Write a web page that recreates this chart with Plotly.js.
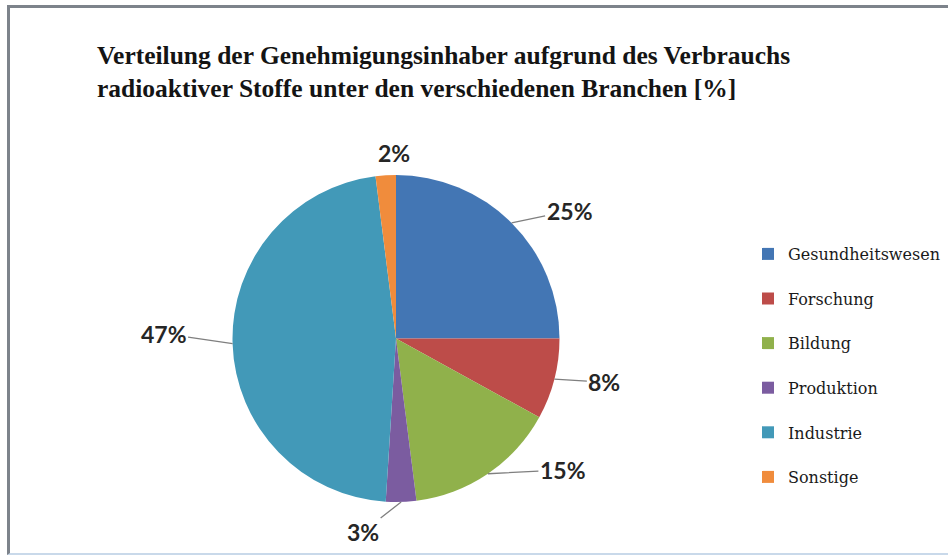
<!DOCTYPE html>
<html>
<head>
<meta charset="utf-8">
<script src="https://cdn.plot.ly/plotly-3.0.1.min.js"></script>
<style>
  html, body { margin: 0; padding: 0; background: #ffffff; }
  #wrap { position: relative; width: 948px; height: 556px; overflow: hidden; }
  #chart { position: absolute; left: 0; top: 0; width: 948px; height: 556px; }
  #frame { position: absolute; left: 7px; top: 5px; width: 960px; height: 545px;
           border-left: 3px solid #7d838b; border-top: 3px solid #7d838b;
           border-bottom: 2px solid #c9d9ea; pointer-events: none; }
</style>
</head>
<body>
<div id="wrap">
  <div id="chart"></div>
  <div id="frame"></div>
</div>
<script>
// ---- data ----
var categories = ["Gesundheitswesen", "Forschung", "Bildung", "Produktion", "Industrie", "Sonstige"];
var shares = [25, 8, 15, 3, 47, 2];
var percentLabels = ["25%", "8%", "15%", "3%", "47%", "2%"];

// ---- styling ----
var colors = ["#4376B4", "#BD4C49", "#90B14B", "#7B5CA0", "#4299B8", "#F08C3C"];
// label offset (px) from the slice's outer edge midpoint
var labelDX = [58, 50, 75, -38, -69, 8];
var labelDY = [-12, 3, -4, 30, -10, -22];
var leader = [true, true, true, true, true, false];

var W = 948, H = 556;
var dom = { x: [232 / W, 560 / W], y: [1 - 502 / H, 1 - 175 / H] };

// legend display names (extra blank line gives Excel-like spacing)
var legendNames = categories.map(function (c) { return c + "<br> "; });

var trace = {
  type: "pie",
  values: shares,
  labels: legendNames,
  hovertext: categories,
  marker: { colors: colors, line: { width: 0 } },
  sort: false,
  direction: "clockwise",
  rotation: 0,
  textinfo: "none",
  hoverinfo: "text+percent",
  domain: dom
};

// compute label anchors from the data
var cxPx = (dom.x[0] + dom.x[1]) / 2 * W;
var cyPx = (1 - (dom.y[0] + dom.y[1]) / 2) * H;
var rPx = Math.min((dom.x[1] - dom.x[0]) * W, (dom.y[1] - dom.y[0]) * H) / 2;
var total = shares.reduce(function (a, b) { return a + b; }, 0);
var annotations = [];
var cum = 0;
for (var i = 0; i < shares.length; i++) {
  var mid = (cum + shares[i] / 2) / total * 2 * Math.PI;
  cum += shares[i];
  var ex = cxPx + rPx * Math.sin(mid);
  var ey = cyPx - rPx * Math.cos(mid);
  annotations.push({
    xref: "paper", yref: "paper",
    x: ex / W, y: 1 - ey / H,
    ax: labelDX[i], ay: labelDY[i],
    text: percentLabels[i],
    showarrow: true,
    arrowhead: 0,
    arrowwidth: 1.3,
    arrowcolor: leader[i] ? "#7f7f7f" : "rgba(0,0,0,0)",
    standoff: 0,
    font: { family: "Lato, 'Open Sans', sans-serif", size: 23, color: "#262626", weight: "bold" }
  });
}

var layout = {
  width: W, height: H,
  margin: { l: 0, r: 0, t: 0, b: 0 },
  paper_bgcolor: "#ffffff",
  title: {
    text: "<b>Verteilung der Genehmigungsinhaber aufgrund des Verbrauchs<br>radioaktiver Stoffe unter den verschiedenen Branchen [%]</b>",
    font: { family: "'Liberation Serif', 'Times New Roman', serif", size: 25.5, color: "#141414" },
    xref: "paper", x: 97 / W, xanchor: "left",
    yref: "container", y: 1 - 64 / H, yanchor: "top"
  },
  showlegend: true,
  legend: {
    x: 748 / W, xanchor: "left",
    y: 1 - 237 / H, yanchor: "top",
    valign: "top",
    font: { family: "'DejaVu Serif', serif", size: 16, color: "#1a1a1a" },
    bgcolor: "rgba(0,0,0,0)"
  },
  annotations: annotations
};

Plotly.newPlot("chart", [trace], layout, { displayModeBar: false, staticPlot: true });
</script>
</body>
</html>
